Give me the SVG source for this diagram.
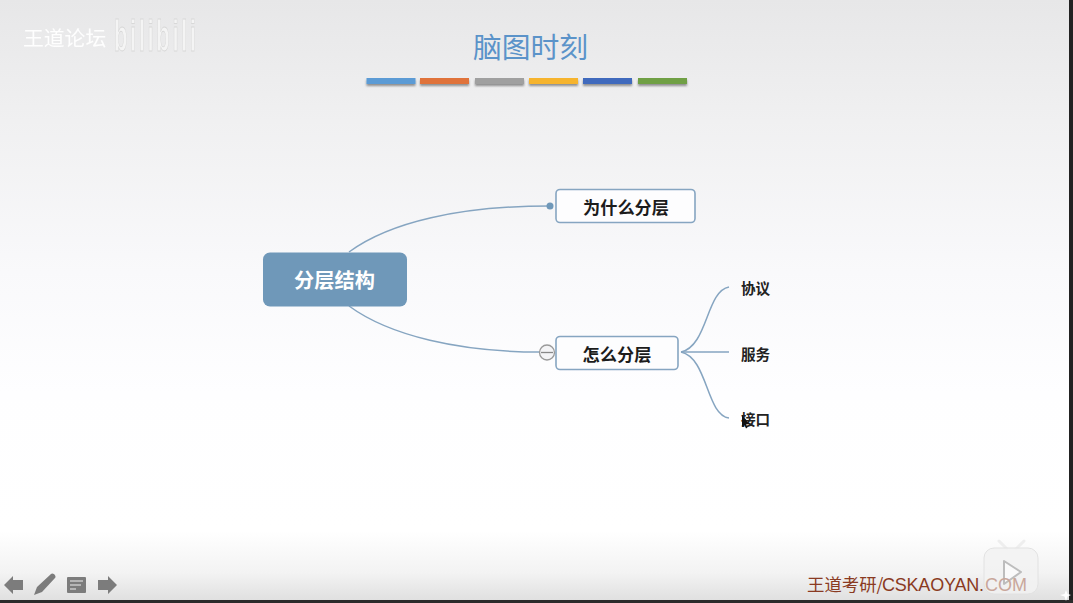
<svg xmlns="http://www.w3.org/2000/svg" width="1073" height="603" viewBox="0 0 1073 603">
<style>
.cjk{font-family:"Noto Sans CJK SC","Liberation Sans",sans-serif}
.leaf{font-size:14.6px;font-weight:700;fill:#222}
.sub{font-size:17.2px;font-weight:700;fill:#1c1c1c}
.conn{fill:none;stroke:#86a5c1;stroke-width:1.5}
.box{fill:#fdfdfe;stroke:#86a5c1;stroke-width:1.6}
.bar{filter:url(#sh)}
.ico{fill:#7c7c7c}
</style>
<defs>
<linearGradient id="bg" x1="0" y1="0" x2="0" y2="1">
<stop offset="0" stop-color="#e7e7e8"/><stop offset=".2" stop-color="#f0f0f1"/><stop offset=".45" stop-color="#f9f9fb"/><stop offset=".65" stop-color="#fefeff"/><stop offset=".88" stop-color="#ffffff"/><stop offset=".95" stop-color="#f3f3f3"/><stop offset="1" stop-color="#dedede"/>
</linearGradient>
<filter id="sh" x="-10%" y="-50%" width="120%" height="250%"><feDropShadow dx="0" dy="2" stdDeviation="1" flood-color="#000" flood-opacity=".4"/></filter>
<filter id="bl" x="-10%" y="-10%" width="120%" height="120%"><feGaussianBlur stdDeviation=".5"/></filter>
</defs>
<rect width="1073" height="603" fill="url(#bg)"/>
<rect x="1069" width="4" height="603" fill="#222"/>
<rect y="600" width="1073" height="3" fill="#2b2b2b"/>

<g id="watermark" filter="url(#bl)">
<text class="cjk" x="23" y="46" font-size="20.800" fill="#fff" fill-opacity=".95">王道论坛</text>
<text x="0" y="0" transform="translate(114 51) scale(1 2)" font-family="'Liberation Sans',sans-serif" font-size="22" font-weight="700" fill="#f4f4f4" stroke="#d8d8d8" stroke-width=".4" textLength="82">bilibili</text>
</g>

<g id="title">
<text class="cjk" x="530.500" y="58" font-size="28.800" text-anchor="middle" fill="#5b93c9">脑图时刻</text>
<rect class="bar" x="366.500" y="78" width="49" height="6" fill="#5b9bd5"/>
<rect class="bar" x="420" y="78" width="49" height="6" fill="#e0733a"/>
<rect class="bar" x="475" y="78" width="49" height="6" fill="#a0a0a0"/>
<rect class="bar" x="529" y="78" width="49" height="6" fill="#f6b42e"/>
<rect class="bar" x="583" y="78" width="49" height="6" fill="#3f6bbd"/>
<rect class="bar" x="638" y="78" width="49" height="6" fill="#70a044"/>
</g>

<g id="connectors">
<path class="conn" d="M349 252C390 222 460 206 550 206"/>
<path class="conn" d="M349 306C390 336 460 352 540 352"/>
<path class="conn" d="M681 352C708 346 706 291 729 287"/>
<path class="conn" d="M681 352H729"/>
<path class="conn" d="M681 352C708 358 706 415 729 418"/>
</g>

<g id="root">
<rect x="263" y="252.500" width="144" height="54" rx="7" fill="#6f98b9"/>
<text class="cjk" x="334.500" y="287.500" font-size="20.200" font-weight="700" text-anchor="middle" fill="#fff">分层结构</text>
</g>

<g id="why">
<circle cx="550" cy="206" r="3.500" fill="#6f98b9"/>
<rect class="box" x="556" y="189.500" width="139" height="33" rx="4"/>
<text class="cjk sub" x="626" y="213.500" text-anchor="middle">为什么分层</text>
</g>

<g id="how">
<rect class="box" x="556" y="336.500" width="122" height="33" rx="4"/>
<text class="cjk sub" x="617" y="360.500" text-anchor="middle">怎么分层</text>
<circle cx="547" cy="352.500" r="7.500" fill="#f4f4f6" stroke="#9a9a9a" stroke-width="1.300"/>
<path d="M541 352.500H553" stroke="#888" stroke-width="1.300"/>
</g>

<g id="leaf1"><text class="cjk leaf" x="741" y="293.500">协议</text></g>
<g id="leaf2"><text class="cjk leaf" x="741" y="359.500">服务</text></g>
<g id="leaf3"><text class="cjk leaf" x="741" y="425">接口</text></g>
<path id="cursor" d="M742 415V427L744.500 425L746 428.500L747.500 427.500L746 424.500L749 424Z" fill="#111"/>

<g id="toolbar">
<path class="ico" d="M4 585L13 576V580H23V590H13V594Z"/>
<path class="ico" d="M34 595L37 587L51 574C53 572 57 576 55 578L42 592Z"/>
<rect class="ico" x="67" y="577" width="19" height="16" rx="1"/>
<path d="M70 581H83M70 585H81M70 589H76" stroke="#eee" stroke-width="1.200"/>
<path class="ico" d="M117 585L108 576V580H98V590H108V594Z"/>
</g>

<g id="play" filter="url(#bl)">
<path d="M999 541L1007 549M1024 541L1016 549" stroke="#eeeeee" stroke-width="3" stroke-linecap="round"/>
<rect x="984" y="548" width="54" height="46" rx="10" fill="#f2f2f2" fill-opacity=".85" stroke="#e2e2e2"/>
<path d="M1004 561L1021 572L1004 584Z" fill="#fafafa" stroke="#bdbdbd" stroke-width="2" stroke-linejoin="round"/>
</g>

<g id="brand">
<text x="807" y="591" font-size="17.400" fill="#8a3a22" font-family="'Noto Sans CJK SC','Liberation Sans',sans-serif">王道考研/</text>
<text x="882" y="591" font-size="18" fill="#8a3a22" font-family="'Liberation Sans',sans-serif" textLength="102">CSKAOYAN.</text>
<text x="985" y="591" font-size="18" fill="#c9a79b" font-family="'Liberation Sans',sans-serif" textLength="42">COM</text>
</g>
<path id="spark" d="M1066 590L1067.500 594L1071 595L1067.500 596.500L1066 601L1064.500 596.500L1060 595L1064.500 594Z" fill="#fff"/>
</svg>
